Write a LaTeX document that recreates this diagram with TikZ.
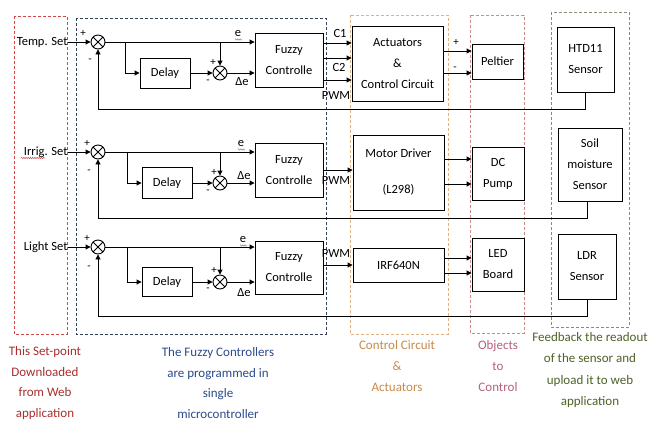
\documentclass[tikz,border=0pt]{standalone}
\usepackage{fontspec}
\setmainfont{Carlito}
\usetikzlibrary{arrows.meta,decorations.pathmorphing}
\definecolor{cred}{HTML}{D04848}
\definecolor{cblue}{HTML}{34405A}
\definecolor{corange}{HTML}{E2B07E}
\definecolor{cpink}{HTML}{D08888}
\definecolor{cgreen}{HTML}{8A8A70}
\definecolor{tred}{HTML}{A83030}
\definecolor{tblue}{HTML}{2C4C8C}
\definecolor{torange}{HTML}{C88A4C}
\definecolor{tpink}{HTML}{B8607E}
\definecolor{tgreen}{HTML}{4F6228}
\begin{document}
\begin{tikzpicture}[x=1pt,y=-1pt,
  font=\fontsize{12.5}{21}\selectfont,
  line width=0.9pt,
  blk/.style={draw, line width=0.9pt, inner sep=0pt, align=center, font=\fontsize{12.5}{21}\selectfont},
  sumj/.style={circle, draw, line width=0.9pt, minimum size=14pt, inner sep=0pt,
    path picture={\draw[line width=0.9pt] (path picture bounding box.north west)--(path picture bounding box.south east)
      (path picture bounding box.north east)--(path picture bounding box.south west);}},
  arr/.style={-{Triangle[length=5pt,width=5pt]}},
  lbl/.style={inner sep=0pt, font=\fontsize{12.5}{14}\selectfont},
  sgn/.style={inner sep=0pt, font=\fontsize{11}{12}\selectfont},
  grp/.style={dashed, dash pattern=on 3pt off 2pt, line width=0.8pt},
  note/.style={align=center, inner sep=0pt},
  squig/.style={decorate, decoration={snake, segment length=2.2pt, amplitude=0.7pt}, line width=0.5pt}
]
\useasboundingbox[fill=white] (0,0) rectangle (648,421);

% group boxes
\draw[grp, cred] (14,16) rectangle (67,334);
\draw[grp, cblue] (76,18) rectangle (326,334);
\draw[grp, corange] (350,15) rectangle (448,334);
\draw[grp, cpink] (470,15) rectangle (524,333);
\draw[grp, cgreen] (551,12) rectangle (629,327);

% ---------- Row 1 ----------
\node[lbl, anchor=east] (set1) at (68,42) {Temp. Set};
\node[sumj] (s1) at (98,42) {};
\node[blk, minimum width=50pt, minimum height=30pt] (d1) at (165,73) {Delay};
\node[sumj] (sd1) at (220,73) {};
\node[blk, minimum width=68pt, minimum height=54pt] (f1) at (289,60) {Fuzzy\\Controlle};
\node[blk, minimum width=91pt, minimum height=75pt] (a1) at (397.5,63.5) {Actuators\\\&\\Control Circuit};
\node[blk, minimum width=51pt, minimum height=35pt] (o1) at (497.5,61.5) {Peltier};
\node[blk, minimum width=57pt, minimum height=65pt] (z1) at (585.5,59.5) {HTD11\\Sensor};
\coordinate (b1) at (125,42);
\coordinate (c1) at (220,42);
\coordinate (fb1) at (98,109);

\draw[arr] (set1.east) -- (s1.west);
\draw[arr] (s1.east) -- (f1.west |- s1);
\draw[arr] (b1) |- (d1.west);
\draw[arr] (c1) -- (sd1.north);
\draw[arr] (d1.east) -- (sd1.west);
\draw[arr] (sd1.east) -- (f1.west |- sd1);
\draw[arr] (f1.east |- 0,43) -- (a1.west |- 0,43);
\draw[arr] (f1.east |- 0,58) -- (a1.west |- 0,58);
\draw[arr] (f1.east |- 0,80) -- (a1.west |- 0,80);
\draw[arr] (a1.east |- 0,51) -- (o1.west |- 0,51);
\draw[arr] (a1.east |- 0,73) -- (o1.west |- 0,73);
\draw[arr] (z1.south) |- (fb1) -- (s1.south);

\node[sgn] (p1a) at (83,33) {+};
\node[sgn] (m1a) at (90,61) {-};
\node[sgn] (p1b) at (213,62) {+};
\node[sgn] (m1b) at (208,82) {-};
\node[lbl] (e1) at (238,34) {e};
\node[lbl] (de1) at (242,82) {Δe};
\node[lbl] (lc1) at (340,33) {C1};
\node[lbl] (lc2) at (339,67) {C2};
\node[lbl] (lp1) at (336,95) {PWM};
\node[sgn] (op1) at (456,42) {+};
\node[sgn] (om1) at (455,69) {-};
\draw[squig, cgreen] (235,39.5) -- (242,39.5);

% ---------- Row 2 ----------
\node[lbl, anchor=east] (set2) at (68,152) {Irrig. Set};
\node[sumj] (s2) at (98,152) {};
\node[blk, minimum width=50pt, minimum height=31pt] (d2) at (167,183) {Delay};
\node[sumj] (sd2) at (220,183) {};
\node[blk, minimum width=68pt, minimum height=54pt] (f2) at (289,170) {Fuzzy\\Controlle};
\node[blk, minimum width=91pt, minimum height=75pt] (a2) at (398.5,172.5) {Motor Driver\\[15pt](L298)};
\node[blk, minimum width=52pt, minimum height=53pt] (o2) at (498,173.5) {DC\\Pump};
\node[blk, minimum width=64pt, minimum height=73pt] (z2) at (590,164.5) {Soil\\moisture\\Sensor};
\coordinate (b2) at (127,152);
\coordinate (c2) at (220,152);
\coordinate (fb2) at (98,218);

\draw[arr] (set2.east) -- (s2.west);
\draw[arr] (s2.east) -- (f2.west |- s2);
\draw[arr] (b2) |- (d2.west);
\draw[arr] (c2) -- (sd2.north);
\draw[arr] (d2.east) -- (sd2.west);
\draw[arr] (sd2.east) -- (f2.west |- sd2);
\draw[arr] (f2.east |- 0,170) -- (a2.west |- 0,170);
\draw[arr] (a2.east |- 0,159) -- (o2.west |- 0,159);
\draw[arr] (a2.east |- 0,184) -- (o2.west |- 0,184);
\draw[arr] (z2.south -| 587,0) |- (fb2) -- (s2.south);

\node[sgn] (p2a) at (87,143) {+};
\node[sgn] (m2a) at (89,172) {-};
\node[sgn] (p2b) at (214,172) {+};
\node[sgn] (m2b) at (208,192) {-};
\node[lbl] (e2) at (241,144) {e};
\node[lbl] (de2) at (244,176) {Δe};
\node[lbl] (lp2) at (336,180) {PWM};
\draw[squig, cred] (21,158) -- (45,158);
\draw[squig, cgreen] (238,149.5) -- (245,149.5);

% ---------- Row 3 ----------
\node[lbl, anchor=east] (set3) at (68,247) {Light Set};
\node[sumj] (s3) at (98,247) {};
\node[blk, minimum width=50pt, minimum height=29pt] (d3) at (167,282) {Delay};
\node[sumj] (sd3) at (220,282) {};
\node[blk, minimum width=68pt, minimum height=53pt] (f3) at (289,267.5) {Fuzzy\\Controlle};
\node[blk, minimum width=91pt, minimum height=34pt] (a3) at (398.5,265) {IRF640N};
\node[blk, minimum width=52pt, minimum height=53pt] (o3) at (498,264.5) {LED\\Board};
\node[blk, minimum width=58pt, minimum height=65pt] (z3) at (587,266.5) {LDR\\Sensor};
\coordinate (b3) at (127,247);
\coordinate (c3) at (220,247);
\coordinate (fb3) at (98,316);

\draw[arr] (set3.east) -- (s3.west);
\draw[arr] (s3.east) -- (f3.west |- s3);
\draw[arr] (b3) |- (d3.west);
\draw[arr] (c3) -- (sd3.north);
\draw[arr] (d3.east) -- (sd3.west);
\draw[arr] (sd3.east) -- (f3.west |- sd3);
\draw[arr] (f3.east |- 0,265) -- (a3.west |- 0,265);
\draw[arr] (a3.east |- 0,258) -- (o3.west |- 0,258);
\draw[arr] (a3.east |- 0,273) -- (o3.west |- 0,273);
\draw[arr] (z3.south) |- (fb3) -- (s3.south);

\node[sgn] (p3a) at (87,238) {+};
\node[sgn] (m3a) at (89,268) {-};
\node[sgn] (p3b) at (214,270) {+};
\node[sgn] (m3b) at (208,290) {-};
\node[lbl] (e3) at (243,240) {e};
\node[lbl] (de3) at (244,293) {Δe};
\node[lbl] (lp3) at (336,253) {PWM};
\draw[squig, cgreen] (240,245.5) -- (247,245.5);

% ---------- notes ----------
\node[note, tred, font=\fontsize{13}{20.7}\selectfont] (n1) at (45,383) {This Set-point\\Downloaded\\from Web\\application};
\node[note, tblue, font=\fontsize{13}{20.7}\selectfont] (n2) at (218,383) {The Fuzzy Controllers\\are programmed in\\single\\microcontroller};
\node[note, torange, font=\fontsize{13}{21}\selectfont] (n3) at (397,366) {Control Circuit\\\&\\Actuators};
\node[note, tpink, font=\fontsize{13}{21}\selectfont] (n4) at (498,366) {Objects\\to\\Control};
\node[note, tgreen, font=\fontsize{13}{21.3}\selectfont] (n5) at (590,370) {Feedback the readout\\of the sensor and\\upload it to web\\application};
\end{tikzpicture}
\end{document}
